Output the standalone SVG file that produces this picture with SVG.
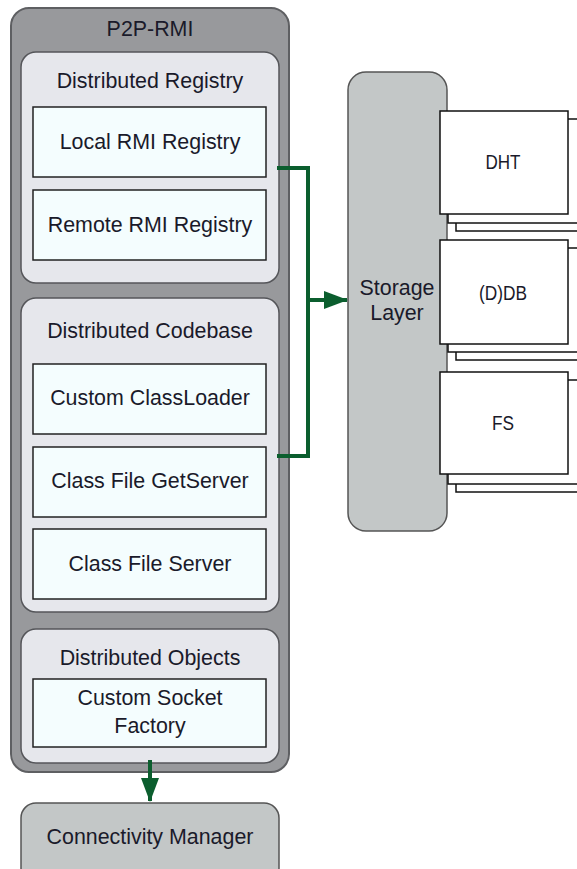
<svg xmlns="http://www.w3.org/2000/svg" width="577" height="869" viewBox="0 0 577 869">
  <style>
    text { font-family: "Liberation Sans", Arial, sans-serif; font-size: 21.4px; fill: #1a1a2a; text-anchor: middle; dominant-baseline: central; }
    .small { font-size: 19.5px; }
    .outer { fill: #98999c; stroke: #5e5f62; stroke-width: 2; }
    .panel { fill: #e6e7ec; stroke: #55565a; stroke-width: 1.5; }
    .item { fill: #f4fdfe; stroke: #222; stroke-width: 1.5; }
    .layer { fill: #c3c7c7; stroke: #555; stroke-width: 1.5; }
    .sheet { fill: #ffffff; stroke: #111; stroke-width: 1.5; }
    .link { fill: none; stroke: #0b5e2e; stroke-width: 4; }
  </style>
  <defs>
    <marker id="head" viewBox="0 0 12 9" refX="11.5" refY="4.5" markerWidth="6" markerHeight="4.5" orient="auto" markerUnits="strokeWidth">
      <path d="M0,0 L12,4.5 L0,9 z" fill="#0b5e2e"/>
    </marker>
  </defs>

  <!-- P2P-RMI container -->
  <g id="p2p-rmi">
    <rect class="outer" x="11" y="8" width="278" height="764" rx="18"/>
    <text x="150" y="29">P2P-RMI</text>
  </g>

  <g id="distributed-registry">
    <rect class="panel" x="21" y="52" width="258" height="231" rx="15"/>
    <text x="150" y="81">Distributed Registry</text>
  </g>
  <g id="local-rmi-registry">
    <rect class="item" x="33" y="107" width="233" height="70"/>
    <text x="150" y="142">Local RMI Registry</text>
  </g>
  <g id="remote-rmi-registry">
    <rect class="item" x="33" y="190" width="233" height="70"/>
    <text x="150" y="225">Remote RMI Registry</text>
  </g>

  <g id="distributed-codebase">
    <rect class="panel" x="21" y="298" width="258" height="314" rx="15"/>
    <text x="150" y="331">Distributed Codebase</text>
  </g>
  <g id="custom-classloader">
    <rect class="item" x="33" y="364" width="233" height="70"/>
    <text x="150" y="398">Custom ClassLoader</text>
  </g>
  <g id="class-file-getserver">
    <rect class="item" x="33" y="447" width="233" height="70"/>
    <text x="150" y="481">Class File GetServer</text>
  </g>
  <g id="class-file-server">
    <rect class="item" x="33" y="529" width="233" height="70"/>
    <text x="150" y="564">Class File Server</text>
  </g>

  <g id="distributed-objects">
    <rect class="panel" x="21" y="629" width="258" height="134" rx="15"/>
    <text x="150" y="658">Distributed Objects</text>
  </g>
  <g id="custom-socket-factory">
    <rect class="item" x="33" y="679" width="233" height="68"/>
    <text x="150" y="698">Custom Socket</text>
    <text x="150" y="726">Factory</text>
  </g>

  <g id="connectivity-manager">
    <rect class="layer" x="21" y="803" width="258" height="80" rx="15"/>
    <text x="150" y="837">Connectivity Manager</text>
  </g>

  <g id="storage-layer">
    <rect class="layer" x="348" y="72" width="99" height="459" rx="18"/>
    <text x="397" y="288">Storage</text>
    <text x="397" y="313">Layer</text>
  </g>

  <!-- stacked storage back-ends -->
  <g id="dht">
    <rect class="sheet" x="456" y="127" width="130" height="104"/>
    <rect class="sheet" x="448" y="119" width="130" height="104"/>
    <rect class="sheet" x="440" y="111" width="128" height="103"/>
    <text class="small" x="503" y="162" textLength="35" lengthAdjust="spacingAndGlyphs">DHT</text>
  </g>
  <g id="ddb">
    <rect class="sheet" x="456" y="256" width="130" height="104"/>
    <rect class="sheet" x="448" y="248" width="130" height="104"/>
    <rect class="sheet" x="440" y="240" width="128" height="104"/>
    <text class="small" x="503" y="293" textLength="48" lengthAdjust="spacingAndGlyphs">(D)DB</text>
  </g>
  <g id="fs">
    <rect class="sheet" x="456" y="388" width="130" height="104"/>
    <rect class="sheet" x="448" y="380" width="130" height="104"/>
    <rect class="sheet" x="440" y="372" width="128" height="102"/>
    <text class="small" x="503" y="423" textLength="22" lengthAdjust="spacingAndGlyphs">FS</text>
  </g>

  <!-- connectors -->
  <g id="connectors">
    <polyline class="link" points="277,168 308,168 308,456 277,456"/>
    <line class="link" x1="308" y1="300" x2="347" y2="300" marker-end="url(#head)"/>
    <line class="link" x1="150" y1="760" x2="150" y2="801" marker-end="url(#head)"/>
  </g>
</svg>
